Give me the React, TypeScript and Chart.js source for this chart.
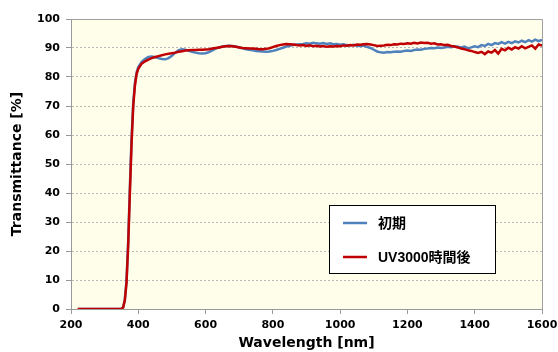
import React, { useEffect, useRef } from "react";
import { Chart, registerables } from "chart.js";

Chart.register(...registerables);

const wavelengths: number[] = [
  220, 240, 260, 280, 300, 320, 340, 350, 355, 360, 365, 370, 375, 380, 385, 390, 395, 400,
  410, 420, 430, 440, 450, 460, 470, 480, 490, 500, 510, 520, 530, 540, 550, 560, 570, 580, 590, 600,
  610, 620, 630, 640, 650, 660, 670, 680, 690, 700, 710, 720, 730, 740, 750, 760, 770, 780, 790, 800,
  810, 820, 830, 840, 850, 860, 870, 880, 890, 900, 910, 920, 930, 940, 950, 960, 970, 980, 990, 1000,
  1010, 1020, 1030, 1040, 1050, 1060, 1070, 1080, 1090, 1100, 1110, 1120, 1130, 1140, 1150, 1160, 1170, 1180, 1190, 1200,
  1210, 1220, 1230, 1240, 1250, 1260, 1270, 1280, 1290, 1300, 1310, 1320, 1330, 1340, 1350, 1360, 1370, 1380, 1390, 1400,
  1410, 1420, 1430, 1440, 1450, 1460, 1470, 1480, 1490, 1500, 1510, 1520, 1530, 1540, 1550, 1560, 1570, 1580, 1590, 1600,
];

const initialValues: number[] = [
  0, 0, 0, 0, 0, 0, 0, 0.1, 0.6, 3.3, 9.8, 23.5, 42, 59, 71, 78, 81.6, 83.4,
  85.2, 86.2, 86.9, 87.1, 86.8, 86.5, 86.2, 86.1, 86.5, 87.3, 88.4, 89.3, 89.6, 89.4, 89.0, 88.7, 88.4, 88.2, 88.1, 88.2,
  88.6, 89.2, 89.8, 90.2, 90.5, 90.7, 90.8, 90.7, 90.5, 90.2, 89.9, 89.6, 89.4, 89.2, 89.0, 88.9, 88.8, 88.7, 88.8, 89.0,
  89.3, 89.7, 90.1, 90.5, 90.8, 91.0, 91.2, 91.3, 91.4, 91.6, 91.5, 91.8, 91.6, 91.5, 91.7, 91.4, 91.6, 91.3, 91.4, 91.1,
  91.3, 91.0, 90.9, 91.1, 90.8, 90.7, 90.8, 90.4, 90.0, 89.4, 88.8, 88.5, 88.4, 88.6, 88.5, 88.7, 88.8, 88.7, 89.0, 89.1,
  89.0, 89.3, 89.5, 89.4, 89.7, 89.8, 90.0, 89.9, 90.2, 90.0, 90.2, 90.4, 90.3, 90.6, 90.4, 90.2, 90.5, 89.9, 90.2, 90.6,
  90.3, 91.0, 90.7, 91.4, 91.0, 91.7, 91.4, 92.0, 91.5, 92.1, 91.7, 92.3, 91.9, 92.5, 92.0, 92.7, 92.2, 92.9, 92.4, 92.8,
];

const afterUvValues: number[] = [
  0, 0, 0, 0, 0, 0, 0, 0.1, 0.5, 3.0, 9.0, 22, 40, 57, 70, 77, 81, 82.8,
  84.6, 85.4, 86.0, 86.5, 86.9, 87.2, 87.5, 87.8, 88.0, 88.2, 88.4, 88.7, 88.9, 89.1, 89.2, 89.3, 89.3, 89.4, 89.4, 89.5,
  89.6, 89.8, 90.0, 90.2, 90.4, 90.6, 90.7, 90.6, 90.4, 90.2, 90.0, 89.9, 89.8, 89.8, 89.7, 89.6, 89.6, 89.7, 89.9, 90.3,
  90.7, 91.0, 91.2, 91.4, 91.3, 91.2, 91.0, 90.9, 91.0, 90.7, 90.9, 90.6, 90.8, 90.5, 90.7, 90.4, 90.6, 90.5, 90.7, 90.6,
  90.9, 90.8, 91.0, 90.9, 91.2, 91.1, 91.3, 91.4, 91.2, 91.0, 90.7, 90.8, 90.9, 91.1, 91.0, 91.3, 91.2, 91.5, 91.4, 91.6,
  91.5, 91.8, 91.6, 91.9, 91.7, 91.8, 91.5, 91.6, 91.2, 91.3, 91.0, 91.1, 90.7, 90.5, 90.2, 89.8, 89.6, 89.2, 89.0, 88.6,
  88.3, 88.7, 87.9, 88.8, 88.4, 89.3, 88.1, 89.7, 89.2, 90.1, 89.5, 90.3, 89.8, 90.6, 89.9, 90.4, 90.9, 89.8, 91.2, 90.8,
];

const seriesNames: string[] = ["初期", "UV3000時間後"];
const seriesColors: string[] = ["#4F81BD", "#C00000"];
const xTitle = "Wavelength [nm]";
const yTitle = "Transmittance [%]";

const tickFont = { family: "'DejaVu Sans', Verdana, sans-serif", size: 11, weight: "bold" as const };
const titleFont = { family: "'DejaVu Sans', Verdana, sans-serif", size: 14, weight: "bold" as const };

const bgPlugin = {
  id: "plotBg",
  beforeDraw(chart: any) {
    const { ctx, chartArea } = chart;
    ctx.save();
    ctx.fillStyle = "#FFFFFF";
    ctx.fillRect(0, 0, chart.width, chart.height);
    ctx.fillStyle = "#FFFEEB";
    ctx.fillRect(chartArea.left, chartArea.top, chartArea.right - chartArea.left, chartArea.bottom - chartArea.top);
    ctx.restore();
  },
  beforeDatasetsDraw(chart: any) {
    const { ctx, chartArea } = chart;
    ctx.save();
    ctx.strokeStyle = "#A0A0A0";
    ctx.lineWidth = 1;
    ctx.beginPath();
    ctx.moveTo(Math.round(chartArea.left) + 0.5, Math.round(chartArea.top) + 0.5);
    ctx.lineTo(Math.round(chartArea.right) + 0.5, Math.round(chartArea.top) + 0.5);
    ctx.lineTo(Math.round(chartArea.right) + 0.5, Math.round(chartArea.bottom) + 0.5);
    ctx.stroke();
    ctx.restore();
  },
};

const legendPlugin = {
  id: "boxLegend",
  afterDraw(chart: any) {
    const { ctx } = chart;
    const x = 329.5;
    const y = 205.5;
    const w = 166;
    const h = 68;
    ctx.save();
    ctx.fillStyle = "#FFFFFF";
    ctx.fillRect(x, y, w, h);
    ctx.strokeStyle = "#000000";
    ctx.lineWidth = 1;
    ctx.strokeRect(x, y, w, h);
    const rows = [y + 17.5, y + 51.5];
    seriesNames.forEach((name, i) => {
      ctx.strokeStyle = seriesColors[i];
      ctx.lineWidth = 2.5;
      ctx.beginPath();
      ctx.moveTo(x + 13.5, rows[i]);
      ctx.lineTo(x + 37.5, rows[i]);
      ctx.stroke();
      ctx.fillStyle = "#000000";
      ctx.font = "bold 14px 'Liberation Sans', 'Noto Sans CJK JP', sans-serif";
      ctx.textBaseline = "middle";
      ctx.textAlign = "left";
      ctx.fillText(name, x + 48.5, rows[i] + 1);
    });
    ctx.restore();
  },
};

export default function App() {
  const canvasRef = useRef<HTMLCanvasElement | null>(null);

  useEffect(() => {
    document.body.style.margin = "0";
    const canvas = canvasRef.current;
    if (!canvas) return;
    const chart = new Chart(canvas, {
      type: "scatter",
      data: {
        datasets: [
          {
            label: seriesNames[0],
            data: wavelengths.map((w, i) => ({ x: w, y: initialValues[i] })),
            borderColor: seriesColors[0],
            backgroundColor: seriesColors[0],
            borderWidth: 2.5,
            showLine: true,
            pointRadius: 0,
            tension: 0,
            order: 2,
          },
          {
            label: seriesNames[1],
            data: wavelengths.map((w, i) => ({ x: w, y: afterUvValues[i] })),
            borderColor: seriesColors[1],
            backgroundColor: seriesColors[1],
            borderWidth: 2.5,
            showLine: true,
            pointRadius: 0,
            tension: 0,
            order: 1,
          },
        ],
      },
      options: {
        animation: false,
        responsive: false,
        maintainAspectRatio: false,
        layout: { padding: { top: 19, right: 16, left: 0, bottom: 0 } },
        plugins: {
          legend: { display: false },
          tooltip: { enabled: false },
        },
        scales: {
          x: {
            type: "linear",
            min: 200,
            max: 1600,
            ticks: {
              stepSize: 200,
              font: tickFont,
              color: "#000000",
              padding: 5,
              maxRotation: 0,
              callback: (v: any) => String(v),
            },
            grid: { drawOnChartArea: false, drawTicks: true, tickLength: 5, tickColor: "#999999" },
            border: { color: "#999999", width: 1 },
            title: { display: true, text: xTitle, font: titleFont, color: "#000000", padding: { top: 0, bottom: 0 } },
            afterFit(scale: any) {
              scale.height = 43;
              scale.paddingLeft = 0;
              scale.paddingRight = 0;
            },
          },
          y: {
            min: 0,
            max: 100,
            ticks: { stepSize: 10, font: tickFont, color: "#000000", padding: 6, callback: (v: any) => String(v) },
            grid: { color: "#B8B8B8", drawTicks: true, tickLength: 5, tickColor: "#999999" },
            border: { color: "#999999", width: 1, dash: [2, 2] },
            title: { display: true, text: yTitle, font: titleFont, color: "#000000", padding: { top: 9, bottom: 0 } },
            afterFit(scale: any) {
              scale.width = 71;
              scale.paddingTop = 0;
              scale.paddingBottom = 0;
            },
          },
        },
      },
      plugins: [bgPlugin, legendPlugin],
    });
    return () => chart.destroy();
  }, []);

  return (
    <div style={{ position: "fixed", left: 0, top: 0, width: 558, height: 352 }}>
      <canvas ref={canvasRef} width={558} height={352} />
    </div>
  );
}
